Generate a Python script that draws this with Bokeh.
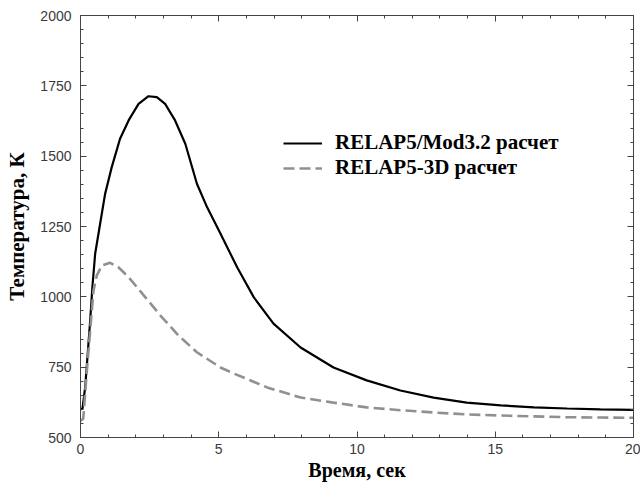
from bokeh.plotting import figure
from bokeh.models import LinearAxis, SingleIntervalTicker, Legend, LegendItem, Range1d, CustomJSTickFormatter
from bokeh.embed import file_html
from bokeh.resources import INLINE

# Data
t_mod32 = [0, 0.07, 0.17, 0.26, 0.35, 0.43, 0.53, 0.68, 0.89, 1.13, 1.43, 1.74, 2.10, 2.46,
           2.76, 3.06, 3.42, 3.79, 4.21, 4.58, 5.06, 5.67, 6.27, 6.98, 7.96, 9.15,
           10.35, 11.57, 12.77, 13.97, 15.2, 16.4, 17.6, 18.8, 20]
T_mod32 = [600, 602, 679, 797, 916, 1034, 1153, 1242, 1366, 1461, 1562, 1627, 1686, 1713,
           1710, 1686, 1627, 1544, 1402, 1318, 1225, 1104, 998, 905, 820, 749,
           703, 667, 642, 624, 614, 607, 603, 600, 598]

t_3d = [0, 0.1, 0.23, 0.35, 0.47, 0.59, 0.77, 1.07, 1.37, 1.74, 2.34, 2.94, 3.54, 4.21,
        5.06, 5.53, 6.75, 7.96, 9.15, 10.35, 11.57, 12.77, 13.97, 15.2, 16.4, 17.6, 18.8, 20]
T_3d = [560, 567, 738, 880, 1023, 1076, 1111, 1121, 1105, 1070, 999, 928, 863, 803,
        749, 728, 678, 642, 624, 607, 597, 589, 582, 578, 575, 572, 571, 570]

label_mod32 = "RELAP5/Mod3.2 расчет"
label_3d = "RELAP5-3D расчет"
x_title = "Время, сек"
y_title = "Температура, К"

AXIS_COLOR = "#444444"
LABEL_COLOR = "#3a3a3a"

p = figure(width=640, height=484, output_backend="svg", toolbar_location=None,
           x_range=Range1d(0, 20), y_range=Range1d(500, 2000),
           min_border_left=80, min_border_right=7, min_border_top=15, min_border_bottom=47,
           x_axis_location=None, y_axis_location=None)
p.background_fill_color = "white"
p.border_fill_color = "white"
p.outline_line_color = AXIS_COLOR
p.xgrid.visible = False
p.ygrid.visible = False


def style_axis(ax, show_labels):
    ax.axis_line_color = AXIS_COLOR
    ax.major_tick_line_color = AXIS_COLOR
    ax.minor_tick_line_color = AXIS_COLOR
    ax.major_tick_in = 6
    ax.major_tick_out = 0
    ax.minor_tick_in = 3
    ax.minor_tick_out = 0
    if show_labels:
        ax.major_label_text_font = "Liberation Sans"
        ax.major_label_text_font_size = "14px"
        ax.major_label_text_color = LABEL_COLOR
        ax.axis_label_text_font = "Liberation Serif"
        ax.axis_label_text_font_style = "bold"
        ax.axis_label_text_color = "black"
    else:
        ax.formatter = CustomJSTickFormatter(code="return ''")
        ax.major_label_text_font_size = "1px"
        ax.major_label_standoff = 0


xb = LinearAxis(ticker=SingleIntervalTicker(interval=5, num_minor_ticks=5), axis_label=x_title)
style_axis(xb, True)
xb.major_label_standoff = 6
xb.axis_label_standoff = 2
xb.axis_label_text_font_size = "20px"
p.add_layout(xb, "below")

xt = LinearAxis(ticker=SingleIntervalTicker(interval=5, num_minor_ticks=5))
style_axis(xt, False)
p.add_layout(xt, "above")

yl = LinearAxis(ticker=SingleIntervalTicker(interval=250, num_minor_ticks=5), axis_label=y_title)
style_axis(yl, True)
yl.major_label_standoff = 9
yl.axis_label_standoff = 8
yl.axis_label_text_font_size = "21px"
p.add_layout(yl, "left")

yr = LinearAxis(ticker=SingleIntervalTicker(interval=250, num_minor_ticks=5))
style_axis(yr, False)
p.add_layout(yr, "right")

r1 = p.line(t_mod32, T_mod32, line_color="black", line_width=2.2)
r2 = p.line(t_3d, T_3d, line_color="#909090", line_width=2.6, line_dash="11 5")

legend = Legend(items=[LegendItem(label=label_mod32, renderers=[r1]),
                       LegendItem(label=label_3d, renderers=[r2])],
                location=(203, 257))
legend.border_line_alpha = 0
legend.background_fill_alpha = 0
legend.padding = 0
legend.margin = 0
legend.spacing = 0
legend.glyph_width = 39
legend.glyph_height = 22
legend.label_height = 22
legend.label_standoff = 13
legend.label_text_font = "Liberation Serif"
legend.label_text_font_style = "bold"
legend.label_text_font_size = "21px"
legend.label_text_color = "black"
p.add_layout(legend, "center")

open("out.html", "w").write(file_html(p, INLINE))
